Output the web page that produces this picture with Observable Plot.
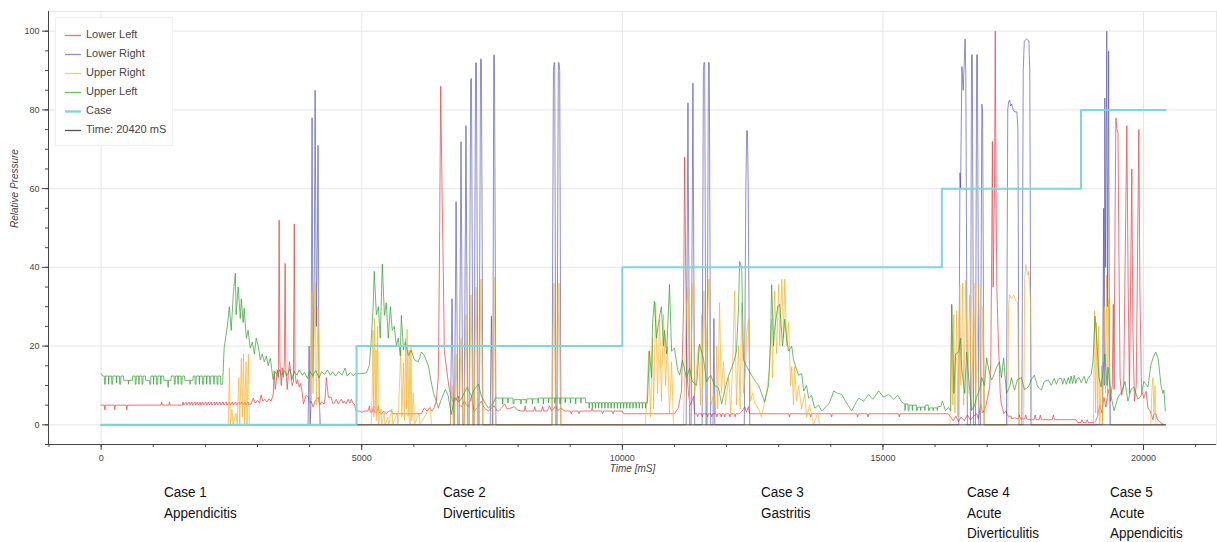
<!DOCTYPE html>
<html><head><meta charset="utf-8">
<script src="https://cdn.jsdelivr.net/npm/d3@7"></script>
<script src="https://cdn.jsdelivr.net/npm/@observablehq/plot@0.6"></script>
<style>
body{margin:0;background:#fff;font-family:"Liberation Sans",Arial,sans-serif;}
#wrap{position:relative;width:1217px;height:542px;overflow:hidden;}
#chart svg{display:block;}
#legend{position:absolute;left:55px;top:17px;width:118px;height:129px;background:#fff;border:1px solid #eee;box-sizing:border-box;}
.li{position:absolute;left:0;width:116px;height:19px;font-size:11px;color:#444;}
.sw{position:absolute;left:9px;top:0;width:16px;height:19px;}
.lt{position:absolute;left:30px;top:2px;white-space:nowrap;}
.ann{position:absolute;font-family:"Liberation Sans",Arial,sans-serif;font-size:15.5px;line-height:20.5px;color:#111;transform:scaleX(0.87);transform-origin:0 0;white-space:nowrap;}
</style></head><body>
<div id="wrap"><div id="chart"></div><div id="legend"></div></div>
<script>
// ---- data (time in mS, relative pressure) ----
const lowerLeft = [[0,5],[60,5],[70,3.8],[85,5],[250,5],[260,3.8],[275,5],[480,5],[490,3.8],[505,5],[1150,5],[1160,5.8],[1175,5],[1300,5],[1310,5.8],[1325,5],[1560,5],[1570,5.8],[1585,5],[1630,5.8],[1645,5],[1690,5.8],[1705,5],[1740,5.8],[1755,5],[1800,5.8],[1815,5],[1850,5.8],[1865,5],[1900,5.8],[1915,5],[1950,5.8],[1965,5],[2010,5.8],[2025,5],[2060,5.8],[2075,5],[2110,5.8],[2125,5],[2170,5.8],[2185,5],[2220,5.8],[2235,5],[2280,5.8],[2295,5],[2340,5.8],[2355,5],[2400,5.8],[2415,5],[2460,5.8],[2475,5],[2520,5.8],[2535,5],[2580,5.8],[2595,5],[2640,5.8],[2655,5],[2700,5.8],[2715,5],[2760,5.8],[2775,5],[2820,5.8],[2835,5],[2880,5.3],[2920,6.8],[2960,5.5],[3000,6.2],[3040,5.5],[3070,7.6],[3100,6],[3140,6.5],[3180,5.8],[3220,6.6],[3260,6],[3300,7.6],[3320,13.7],[3340,9],[3360,11],[3380,14],[3400,12],[3415,52],[3430,16],[3455,10],[3475,14.5],[3495,12],[3515,16],[3530,41],[3545,14],[3570,9],[3590,12.5],[3615,16],[3640,13],[3665,10],[3690,11],[3705,51],[3720,13],[3745,10.4],[3770,11.5],[3800,9.6],[3830,10.5],[3860,8],[3880,5.3],[3910,6.5],[3935,7.5],[3975,7],[4000,5.5],[4030,6],[4070,4.5],[4100,6],[4130,6.5],[4165,7],[4195,5],[4225,5.8],[4280,5.3],[4300,7],[4320,12],[4340,9.6],[4360,7],[4415,7],[4440,5.5],[4475,5.5],[4510,6.5],[4550,5.3],[4580,6],[4610,6.5],[4640,5.5],[4665,6],[4700,5.3],[4740,6.5],[4770,5.5],[4800,6.5],[4830,5.5],[4860,5.3],[4890,3.5],
[4950,3.5],[5000,3.2],[5060,3.5],[5120,3.5],[5150,4.8],[5165,3.2],[5200,3.2],[5230,4.8],[5245,3.2],[5290,3.2],[5320,4.8],[5335,3.2],[5380,2.8],[5420,3.5],[5470,2.8],[5520,3.5],[5570,3.5],[5600,2.8],[5700,2.8],[5800,2.8],[5900,2.8],[6000,2.8],[6145,2.8],[6170,3.5],[6200,4.3],[6250,3.5],[6300,4.3],[6350,3.5],[6390,4.3],[6430,6],[6470,12.3],[6490,40.6],[6515,86],[6540,60],[6565,39],[6585,18.7],[6645,12.4],[6680,9],[6720,7],[6760,5.8],[6810,6.5],[6855,7.3],[6880,5],[6910,4.6],[6970,6],[7010,5],[7045,4.6],[7080,6],[7105,7.3],[7130,5],[7160,3.5],[7200,4],[7240,4.8],[7270,5.5],[7295,6],[7340,4.5],[7380,4],[7430,3.5],[7480,4.2],[7545,4.8],[7580,3.8],[7620,3.5],[7680,4.2],[7740,5.3],[7790,4],[7850,4.2],[7930,4.6],[7980,3.8],[8065,3.5],[8120,3.5],[8135,4.8],[8150,3.5],[8300,3.5],[8320,4.6],[8340,3.5],[8450,3.5],[8470,4.6],[8490,3.5],[8560,3.5],[8600,4.8],[8640,3.6],[8680,4],[8720,4.8],[8760,3.6],[8820,4.2],[8900,3.5],[9000,3.5],[9020,2.8],[9040,3.5],[9150,3.5],[9170,2.8],[9190,3.5],[9300,3.5],[9400,3.5],[9420,4.2],[9440,3.5],[9600,3.5],[9620,2.8],[9640,3.5],[9800,3.5],[9820,2.8],[9840,3.5],[10000,3.5],[10020,2.8],
[10500,2.8],[11000,2.8],[11075,4.3],[11135,8.6],[11175,30],[11195,68],[11215,40],[11245,12],[11270,7.8],[11300,5],[11330,5.8],[11365,7.3],[11385,2.8],[11430,2.8],[11445,2],[11460,2.8],[11520,2.8],[11535,2],[11550,2.8],[11620,2.8],[11635,2],[11650,2.8],[11700,2.8],[11715,2],[11730,2.8],[11800,2.8],[11815,2],[11830,2.8],[11880,2.8],[11895,2],[11910,2.8],[11950,2.8],[11965,2],[11980,2.8],[12050,2.8],[12065,2],[12080,2.8],[12150,2.8],[12165,2],[12180,2.8],[12250,2.8],[12300,3.5],[12350,4.6],[12380,3.2],[12420,4.6],[12440,2.8],[12500,2.8],[12600,2.8],[12700,2.8],[13000,2.8],[13190,2.8],[13205,2],[13220,2.8],[13600,2.8],[13615,2],[13630,2.8],[13900,2.8],[14000,2.8],[14015,2],[14030,2.8],[14300,2.8],[14500,2.8],[14515,2],[14530,2.8],[14700,2.8],[14715,2],[14730,2.8],[14900,2.8],[15000,2.8],[15300,2.8],[15315,2],[15330,2.8],[15900,2.8],[16100,2.8],
[16250,2.8],[16300,2],[16350,1],[16400,2.2],[16450,0.8],[16500,2],[16560,1],[16620,2.5],[16680,1.2],[16740,2.2],[16800,2.8],[16830,1.5],[16880,5.3],[16910,3],[16940,3.6],[16980,5],[17015,7.3],[17050,10],[17070,16.5],[17090,50],[17100,72],[17115,35],[17140,60],[17155,100],[17170,60],[17185,35],[17200,28],[17215,21],[17235,14],[17250,8],[17270,5.3],[17300,4],[17320,2.8],[17360,3.5],[17400,2.2],[17460,2.2],[17470,1.5],[17530,1.8],[17600,1.5],[17620,2.5],[17640,1.5],[17720,1.5],[17740,2.5],[17760,1.5],[17800,1.3],[17900,1.3],[17920,2.5],[17940,1.3],[18000,1.3],[18020,2.5],[18040,1.3],[18150,1.3],[18250,1.3],[18270,2.5],[18290,1.3],[18450,1.3],[18550,1.3],[18700,1.3],[18740,0.6],[18800,0.6],[18820,1.3],[18840,0.6],[18900,0.6],[18920,1.3],[18940,0.6],[19000,0.6],[19050,0.6],
[19080,1],[19120,2.2],[19160,5],[19200,3],[19240,7],[19280,4.5],[19320,9],[19360,6],[19400,10],[19420,30.6],[19435,9],[19455,55],[19470,78],[19490,75],[19510,74],[19530,40],[19550,12],[19580,7.5],[19620,10],[19650,45],[19680,76],[19705,35],[19730,8],[19755,40],[19775,65],[19795,25],[19825,6],[19860,10],[19890,50],[19910,75],[19930,35],[19960,9],[20005,6.8],[20050,8.5],[20085,4.3],[20130,3.5],[20180,1.3],[20200,2.8],[20240,2.8],[20260,1.5],[20300,1],[20340,0.3],[20420,0]];

const lowerRight = [[0,0],[3970,0],[3990,20],[4010,0],[4025,5],[4047,78],[4065,12],[4090,40],[4105,85],[4130,25],[4150,48],[4162,71],[4180,12],[4190,5],[4205,0],
[6700,0],[6732,32],[6765,0],[6780,0],[6810,56.7],[6845,0],[6870,0],[6905,71.9],[6940,0],[6965,0],[7000,76],[7035,0],[7060,0],[7090,87.8],[7105,88],[7135,0],[7155,0],[7185,91.9],[7200,92],[7230,0],[7250,0],[7280,92.9],[7296,92.9],[7325,0],[7465,0],[7478,18],[7488,27.6],[7498,16],[7510,0],[7515,0],[7532,93.9],[7546,93.9],[7575,0],
[8650,0],[8678,90],[8690,92],[8702,92],[8725,0],[8745,0],[8772,92],[8786,92],[8798,90],[8822,0],
[11225,0],[11259,81.8],[11292,0],[11320,0],[11354,86.8],[11388,0],[11530,0],[11555,90],[11565,92],[11580,92],[11605,0],[11625,0],[11652,92],[11668,92],[11695,0],[11740,0],[11757,27],[11775,0],[12340,0],[12370,60],[12385,74.7],[12400,74.7],[12415,60],[12445,0],
[16455,0],[16478,64],[16490,60],[16515,91],[16540,85],[16577,98],[16590,89],[16620,0],[16680,0],[16700,94],[16715,94],[16740,0],[16775,0],[16798,94],[16813,94],[16840,0],[16870,0],[16898,81.5],[16912,80],[16940,0],
[17370,0],[17395,80],[17410,82],[17430,82.5],[17450,81],[17470,81.5],[17500,80],[17530,79.5],[17570,79.5],[17590,75],[17610,0],[17665,0],[17692,90],[17712,97.5],[17760,98],[17800,97.5],[17818,90],[17840,0],
[19210,0],[19235,55],[19245,10],[19257,83],[19272,40],[19295,100],[19310,30],[19330,95],[19345,20],[19365,0],[20420,0]];

const upperRight = [[0,0],[2440,0],[2460,14.5],[2480,0],[2510,4],[2530,0],[2590,3],[2610,0],[2640,12],[2660,0],[2690,17],[2710,2],[2730,18],[2750,0],[2780,16],[2800,0],[2825,18],[2845,0],
[3990,0],[4020,15],[4045,34],[4065,8],[4105,36],[4130,5],[4162,30],[4190,0],
[5180,0],[5200,8],[5215,24],[5230,2],[5245,27],[5260,4],[5275,19],[5290,1],[5305,25],[5320,0],[5370,4],[5385,0],[5430,3],[5445,0],[5500,2],[5515,0],[5580,4],[5595,0],[5680,3],[5695,0],[5750,19],[5770,2],[5800,15.7],[5820,1],[5840,22],[5855,4],[5870,24.3],[5890,2],[5910,19],[5925,0],[5945,20],[5960,1],[5990,8],[6010,0],[6100,3],[6115,0],[6320,4.6],[6335,0],
[6700,0],[6732,10],[6760,0],[6780,0],[6810,18],[6840,0],[6870,0],[6905,22],[6940,0],[6965,0],[7000,28],[7035,0],[7060,0],[7097,33],[7130,0],[7155,0],[7193,35],[7225,0],[7250,0],[7288,37],[7320,0],[7500,0],[7538,37.5],[7570,0],[8650,0],[8688,36],[8720,0],[8750,0],[8784,36],[8815,0],
[10440,0],[10465,5],[10505,18.7],[10540,2],[10580,22],[10600,4],[10640,31],[10675,8],[10715,26.8],[10750,6],[10790,28],[10830,10],[10865,20],[10905,3],[10945,16],[10980,0],[11170,0],[11195,12],[11230,30],[11259,35],[11290,5],[11354,36],[11390,8],[11460,20],[11500,5],[11520,28],[11540,10],[11565,34],[11600,15],[11661,37],[11700,5],[11757,8],[11790,3],[11810,20],[11830,4],[11865,31],[11900,8],[11940,16],[11980,5],[12040,12],[12080,3],[12115,15],[12155,34],[12190,5],[12230,20],[12260,4],[12290,31],[12325,8],[12365,14],[12390,24],[12420,26.8],[12460,6],[12500,8],[12535,5.8],[12615,4],[12670,2],[12765,8],[12825,14],[12865,26.8],[12880,12],[12920,34],[12960,18],[13000,35.7],[13020,20],[13060,37],[13095,22],[13115,37],[13155,20],[13190,26],[13230,10],[13250,14.8],[13285,5],[13305,14.8],[13345,6],[13380,10],[13440,4],[13500,8],[13535,2],[13595,5],[13670,0],[13750,3],[13785,0],
[16285,0],[16320,30.6],[16340,5],[16360,28],[16380,3],[16415,29],[16435,2],[16475,35.6],[16495,10],[16530,36],[16550,5],[16590,36.8],[16630,8],[16665,33],[16705,4],[16745,36],[16780,5],[16840,35.7],[16880,3],[16920,30],[16955,0],[17395,0],[17410,30],[17430,33],[17470,32],[17510,33],[17550,31.5],[17585,31],[17605,0],[17700,0],[17720,37],[17740,40.7],[17780,38],[17800,39],[17835,30],[17855,0],
[19040,0],[19060,29],[19080,3],[19100,26],[19120,2],[19140,25],[19160,0],[19195,15],[19215,0],[19250,30],[19270,8],[19290,38],[19310,6],[19330,32],[19350,0],[20140,0],[20160,8.8],[20180,12],[20200,3],[20220,10],[20240,0],[20420,0]];

const upperLeft = [[0,13],[30,12.4],[60,12.4],[65,10.3],[80,10.3],[85,12.4],[140,12.4],[145,10.3],[152,12.4],[200,12.4],[205,10.3],[220,10.3],[225,12.4],[290,12.4],[295,10.6],[302,12.4],[350,12.4],[355,10.3],[375,10.3],[380,12.4],[430,12.4],[435,11.3],[520,11.3],[525,10.3],[532,11.3],[600,11.3],[605,12.4],[650,12.4],[655,10.3],[670,10.3],[675,12.4],[720,12.4],[725,10.3],[732,12.4],[780,12.4],[785,10.3],[800,10.3],[805,12.4],[850,12.4],[855,11.3],[930,11.3],[935,10.3],[950,10.3],[955,12.4],[1000,12.4],[1005,10.3],[1012,12.4],[1060,12.4],[1065,10.3],[1085,10.3],[1090,12.4],[1140,12.4],[1145,10.3],[1152,12.4],[1200,12.4],[1205,11.3],[1280,11.3],[1285,9.5],[1292,11.3],[1340,11.3],[1345,12.4],[1400,12.4],[1405,10.3],[1420,10.3],[1425,12.4],[1470,12.4],[1475,10.3],[1482,12.4],[1530,12.4],[1535,10.3],[1550,10.3],[1555,12.4],[1600,12.4],[1605,11.3],[1700,11.3],[1705,10.3],[1712,11.3],[1760,11.3],[1765,12.4],[1800,12.4],[1805,10.3],[1820,10.3],[1825,12.4],[1880,12.4],[1885,10.3],[1892,12.4],[1940,12.4],[1945,10.3],[1965,10.3],[1970,12.4],[2020,12.4],[2025,10.3],[2032,12.4],[2080,12.4],[2085,10.3],[2100,10.3],[2105,12.4],[2160,12.4],[2165,10.3],[2172,12.4],[2220,12.4],[2225,10.3],[2240,10.3],[2245,12.4],[2290,12.4],[2295,10.3],[2330,10.3],
[2360,19.5],[2420,25],[2460,30],[2495,24],[2535,33],[2575,38.5],[2590,28],[2630,35],[2670,27],[2690,32],[2725,26],[2745,29.6],[2785,22],[2820,24],[2860,19.5],[2900,21],[2940,18],[2975,22],[3015,20],[3055,16.5],[3090,18],[3130,16],[3170,17.5],[3205,15],[3245,16.9],[3285,13],[3300,11.5],[3340,13.5],[3400,12.4],
[3420,14],[3460,12.6],[3520,13.8],[3560,12.4],[3620,14.2],[3660,11.5],[3700,13.6],[3760,12.6],[3800,14],[3860,12.6],[3900,13.3],[3960,11.8],[4000,13.6],[4060,12.5],[4120,13.8],[4180,11.9],[4230,13.5],[4290,12.8],[4340,13.9],[4400,12.6],[4440,13.5],[4500,12.4],[4560,13.6],[4620,12.6],[4680,14.4],[4720,12.4],[4780,13.3],[4840,12.4],[4870,13],
[4990,13],[5090,13.2],[5145,15],[5185,22],[5220,30],[5240,39],[5280,28],[5320,30],[5355,22],[5395,40.8],[5435,27.8],[5470,31],[5510,22],[5550,30],[5585,24],[5625,25],[5665,20],[5700,22],[5740,17.5],[5760,27.8],[5800,19],[5835,21],[5895,17.6],[5950,19],[6010,16.5],[6085,16],[6145,18.5],[6200,17.6],[6280,15],[6335,10.7],[6375,8.2],[6430,6],[6470,4.2],[6530,6.6],[6605,9],[6660,7.3],[6720,2.6],[6780,7],[6855,5.8],[6910,6.5],[6970,8.2],[7025,9.5],[7105,7.3],[7160,9],[7240,10.3],[7295,7.3],[7355,5.8],[7430,4.2],[7525,5.5],[7565,6.8],
[7600,6.8],[7700,6.8],[7705,5.3],[7712,6.8],[7800,6.8],[7805,5.5],[7812,6.8],[7900,6.8],[7905,5.3],[7920,5.3],[7925,6.4],[8050,6.4],[8055,5.3],[8062,6.4],[8150,6.4],[8155,5.5],[8170,6.6],[8270,6.6],[8275,5.3],[8282,6.6],[8380,6.6],[8385,5.5],[8392,6.8],[8480,6.8],[8485,5.3],[8492,6.8],[8580,6.8],[8585,5.6],[8592,6.8],[8700,6.8],[8705,5.5],[8712,6.8],[8800,6.8],[8805,5.3],[8812,6.8],[8900,6.8],[8905,5.6],[8912,6.8],[9000,6.8],[9005,5.5],[9012,6.8],[9100,6.8],[9105,5.3],[9112,6.8],[9200,6.8],[9205,5.5],[9212,6.8],[9290,6.8],[9295,5.6],[9360,5.6],[9365,4.2],[9372,5.6],[9420,5.6],[9425,4.2],[9432,5.6],[9480,5.6],[9485,4.2],[9492,5.6],[9540,5.6],[9545,4.2],[9552,5.6],[9600,5.6],[9605,4.2],[9612,5.6],[9660,5.6],[9665,4.2],[9672,5.6],[9720,5.6],[9725,4.2],[9732,5.6],[9780,5.6],[9785,4.2],[9792,5.6],[9840,5.6],[9845,4.2],[9852,5.6],[9900,5.6],[9905,4.2],[9912,5.6],[9960,5.6],[9965,4.2],[9972,5.6],[10020,5.6],[10025,4.2],[10032,5.6],[10080,5.6],[10085,4.2],[10092,5.6],[10140,5.6],[10145,4.2],[10152,5.6],[10200,5.6],[10205,4.2],[10212,5.6],[10260,5.6],[10265,4.2],[10272,5.6],[10320,5.6],[10325,4.2],[10332,5.6],[10380,5.6],[10385,4.2],[10392,5.6],[10440,5.6],[10445,4.2],[10452,5.6],[10480,5.5],
[10520,18.7],[10560,12],[10580,26],[10615,31.4],[10655,22],[10695,26],[10750,30],[10790,20],[10810,24],[10850,18],[10905,35.6],[10945,18.7],[11000,19.5],[11060,14],[11100,12.6],[11155,16.5],[11230,11.8],[11290,14.3],[11345,11],[11425,10],[11480,20.5],[11560,16.5],[11615,11],[11695,12.6],[11770,10],[11845,9.4],[11905,5.3],[11960,8.6],[12040,12.6],[12135,15.8],[12190,18.7],[12230,30],[12250,41.5],[12290,40],[12325,16.5],[12385,14.8],[12480,12.6],[12555,11],[12615,10],[12730,5.8],[12805,10],[12845,22],[12865,35.6],[12900,20],[12920,24],[12980,30],[13020,30.6],[13075,20],[13115,26.8],[13150,22],[13190,18.7],[13250,20],[13285,16.5],[13345,14],[13380,12.6],[13440,13],[13480,8.6],[13535,10],[13575,6.8],[13630,7.5],[13690,4.2],[13765,5],[13825,3.5],[13900,4.5],[13960,5.3],[14015,7],[14055,8.6],[14130,8],[14210,7.7],[14305,5.5],[14400,3.5],[14475,5.5],[14535,6.8],[14630,6],[14725,7.7],[14805,6.5],[14920,8.6],[15015,7],[15110,7.7],[15205,6.5],[15285,7.5],[15360,5.8],
[15420,5.3],[15425,3.6],[15432,5.3],[15480,5.3],[15485,3.6],[15500,3.6],[15505,5],[15560,5],[15565,3.6],[15572,5],[15640,5],[15645,3.6],[15660,3.6],[15665,4.5],[15720,4.5],[15725,3.6],[15732,4.5],[15800,4.5],[15805,3.6],[15812,5],[15870,5],[15875,3.6],[15890,3.6],[15895,4.3],[15960,4.3],[15965,3.6],[15972,4.3],[16040,4.3],[16045,3.6],[16052,4.6],[16110,4.6],[16140,6],[16200,3.6],[16260,4.4],[16300,3.6],
[16320,30.6],[16360,8],[16395,18],[16455,18.5],[16490,22],[16510,14.6],[16570,8],[16605,18.5],[16645,12],[16700,3.6],[16760,5],[16795,7],[16855,9],[16895,12],[16950,10],[16990,17],[17045,13],[17085,11.4],[17140,13],[17180,14.6],[17235,16],[17275,12],[17315,17],[17370,8],[17430,9.6],[17465,12],[17525,8.8],[17580,11.5],[17655,12],[17715,9],[17790,9.6],[17850,11.5],[17905,12.6],[17965,9.8],[18040,8.8],[18095,11],[18175,11.4],[18230,10],[18285,11.8],[18330,10.3],[18365,11.6],[18420,11.8],[18450,10.3],[18480,11.8],[18520,10.3],[18555,12],[18585,10.5],[18610,12.4],[18640,10.5],[18670,12.6],[18700,10.5],[18725,11.7],[18765,12],[18805,10.7],[18860,12.3],[18900,10.5],[18935,11.8],[18995,12.8],
[19030,16],[19070,27.6],[19110,20],[19145,12],[19185,9.6],[19225,14],[19260,18],[19300,10],[19320,14.6],[19375,7.3],[19435,3.6],[19510,7],[19565,8],[19645,11],[19700,6],[19760,9],[19815,9.6],[19890,6.5],[19950,7.3],[20005,11],[20085,9.6],[20140,15.2],[20195,17.5],[20235,18.5],[20275,17],[20295,15.2],[20335,10],[20370,8],[20390,8.8],[20405,6],[20420,3.6]];

const caseT = [0, 4900, 10000, 16130, 18800, 20420];
const caseV = [0, 20, 40, 60, 80, 80];
const timeT = [0, 20420];
const timeV = [0, 0];

const xMajor = [0, 5000, 10000, 15000, 20000];
const xMinor = d3.range(-1000, 21001, 1000);
const yMajor = [0, 20, 40, 60, 80, 100];
const yMinor = d3.range(-5, 105, 5);

const seriesNames = ["Lower Left", "Lower Right", "Upper Right", "Upper Left", "Case", "Time: 20420 mS"];
const caseLabels = [["Case 1","Appendicitis"],["Case 2","Diverticulitis"],["Case 3","Gastritis"],["Case 4","Acute","Diverticulitis"],["Case 5","Acute","Appendicitis"]];

// ---- styles ----
const colors = ["#e8474d", "#4545aa", "#f6b330", "#2f9e2f", "#7fd4e0", "#4d3b3b"];
const opac = [0.75, 0.6, 0.7, 0.7, 1, 0.9];
const widths = [1, 1, 1, 1, 2, 1];

const caseData = caseT.map((t, i) => [t, caseV[i]]);
const timeData = timeT.map((t, i) => [t, timeV[i]]);
const lineOpts = (i) => ({x: d => d[0], y: d => d[1], stroke: colors[i], strokeOpacity: opac[i], strokeWidth: widths[i]});

const chart = Plot.plot({
  width: 1217, height: 480,
  marginLeft: 48, marginRight: 1, marginTop: 11, marginBottom: 36,
  x: {domain: [-1010, 21400]},
  y: {domain: [-5, 105]},
  style: {fontFamily: "'Liberation Sans', Arial, sans-serif", fontSize: "9px", color: "#444", background: "white"},
  marks: [
    Plot.frame({stroke: "#e8e8e8"}),
    Plot.gridX({ticks: xMajor, stroke: "#e6e6e6", strokeOpacity: 1}),
    Plot.gridY({ticks: yMajor, stroke: "#e6e6e6", strokeOpacity: 1}),
    Plot.line(lowerLeft, lineOpts(0)),
    Plot.line(lowerRight, lineOpts(1)),
    Plot.line(upperRight, lineOpts(2)),
    Plot.line(upperLeft, lineOpts(3)),
    Plot.line(timeData, lineOpts(5)),
    Plot.line(caseData, {...lineOpts(4), curve: "step-after"}),
    Plot.ruleY([-5], {stroke: "#444"}),
    Plot.ruleX([-1010], {stroke: "#444"}),
    Plot.axisX({ticks: xMinor, tickSize: 3, tickFormat: () => "", label: null}),
    Plot.axisX({ticks: xMajor, tickSize: 6, tickPadding: 4, tickFormat: d => String(d), label: null}),
    Plot.axisY({ticks: yMinor, tickSize: 3, tickFormat: () => "", label: null}),
    Plot.axisY({ticks: yMajor, tickSize: 6, tickPadding: 3, tickFormat: d => String(d), label: null}),
    Plot.text(["Relative Pressure"], {frameAnchor: "left", rotate: -90, dx: -34, fontStyle: "italic", fontSize: 10, fill: "#444"}),
    Plot.text(["Time [mS]"], {frameAnchor: "bottom", dy: 27, fontStyle: "italic", fontSize: 10, fill: "#444"})
  ]
});
document.getElementById("chart").appendChild(chart);

// legend
const svgNS = "http://www.w3.org/2000/svg";
const lg = document.getElementById("legend");
seriesNames.forEach((name, i) => {
  const row = document.createElement("div");
  row.className = "li";
  row.style.top = (8 + i * 19) + "px";
  const sw = document.createElementNS(svgNS, "svg");
  sw.setAttribute("class", "sw");
  sw.setAttribute("width", "16");
  sw.setAttribute("height", "19");
  const ln = document.createElementNS(svgNS, "line");
  ln.setAttribute("x1", "0"); ln.setAttribute("x2", "16");
  ln.setAttribute("y1", "9.5"); ln.setAttribute("y2", "9.5");
  ln.setAttribute("stroke", colors[i]);
  ln.setAttribute("stroke-opacity", String(opac[i]));
  ln.setAttribute("stroke-width", String(widths[i] + 0.3));
  sw.appendChild(ln);
  const tx = document.createElement("div");
  tx.className = "lt";
  tx.textContent = name;
  row.appendChild(sw); row.appendChild(tx);
  lg.appendChild(row);
});

// case annotations below chart
const annLeft = [164, 443, 761, 967, 1110];
const wrap = document.getElementById("wrap");
caseLabels.forEach((lines, i) => {
  const d = document.createElement("div");
  d.className = "ann";
  d.style.left = annLeft[i] + "px";
  d.style.top = "482px";
  d.innerHTML = lines.join("<br>");
  wrap.appendChild(d);
});
</script></body></html>
